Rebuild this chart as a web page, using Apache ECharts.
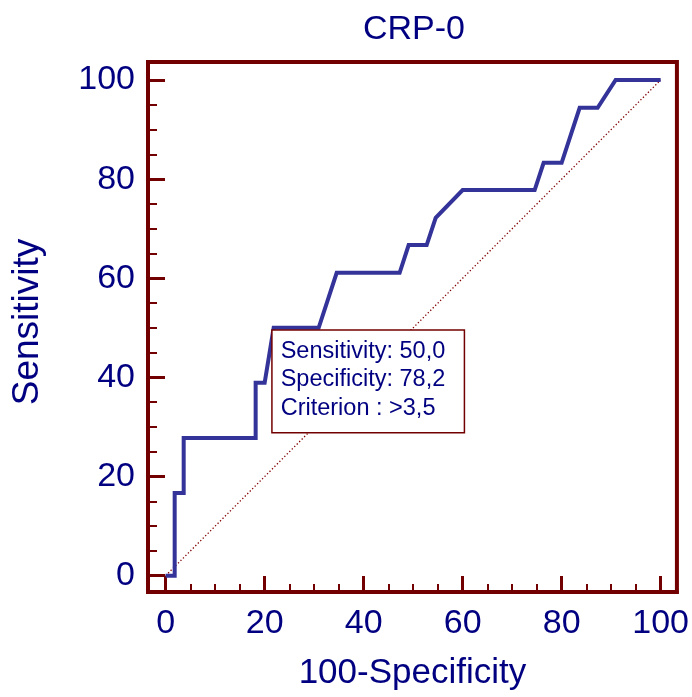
<!DOCTYPE html>
<html>
<head>
<meta charset="utf-8">
<script src="https://cdn.jsdelivr.net/npm/echarts@6/dist/echarts.min.js"></script>
<style>html,body{margin:0;padding:0;background:#fff}#c{width:692px;height:697px}</style>
</head>
<body>
<div id="c"></div>
<script>
// ROC curve (100-Specificity, Sensitivity)
const rocX = [0, 1.82, 1.82, 3.64, 3.64, 18.18, 18.18, 20.0, 21.82, 30.91, 34.55, 47.27, 49.09, 52.73, 54.55, 60.0, 74.55, 76.36, 80.0, 83.64, 87.27, 90.91, 100];
const rocY = [0, 0, 16.7, 16.7, 27.8, 27.8, 38.9, 38.9, 50.0, 50.0, 61.1, 61.1, 66.7, 66.7, 72.2, 77.8, 77.8, 83.3, 83.3, 94.4, 94.4, 100, 100];
const diagX = [0, 100];
const diagY = [0, 100];
const criterionPoint = [21.82, 50.0];
const boxLines = ['Sensitivity: 50,0', 'Specificity: 78,2', 'Criterion : >3,5'];
const majorTicks = [0, 20, 40, 60, 80, 100];
const minorTicks = [5, 10, 15, 25, 30, 35, 45, 50, 55, 65, 70, 75, 85, 90, 95];
const titleText = 'CRP-0';
const xName = '100-Specificity';
const yName = 'Sensitivity';

const FRAME = '#730000';
const NAVY = '#000080';
const FONT = "'Liberation Sans', Arial, sans-serif";

const chart = echarts.init(document.getElementById('c'));
const XMIN = -3.57, XMAX = 103.29, YMIN = -3.29, YMAX = 103.63;

function axisPair(kind) {
  const isX = kind === 'x';
  const base = {
    type: 'value', min: isX ? XMIN : YMIN, max: isX ? XMAX : YMAX,
    splitLine: { show: false }, gridIndex: 0
  };
  const major = Object.assign({}, base, {
    position: isX ? 'bottom' : 'left',
    axisLine: { show: true, onZero: false, lineStyle: { color: FRAME, width: 4 } },
    axisTick: { show: true, inside: true, length: isX ? 16 : 17, customValues: majorTicks,
      lineStyle: { color: FRAME, width: 3 } },
    axisLabel: { show: true, customValues: majorTicks, margin: isX ? 15 : 13,
      color: NAVY, fontSize: 34, fontFamily: FONT },
    name: isX ? xName : '',
    nameLocation: 'middle',
    nameGap: 64,
    nameTextStyle: { color: NAVY, fontSize: 35, fontFamily: FONT }
  });
  const minor = Object.assign({}, base, {
    position: isX ? 'bottom' : 'left',
    axisLine: { show: false, onZero: false },
    axisTick: { show: true, inside: true, length: isX ? 8 : 9, customValues: minorTicks,
      lineStyle: { color: FRAME, width: 2 } },
    axisLabel: { show: false }
  });
  return [major, minor];
}

const option = {
  animation: false,
  backgroundColor: '#fff',
  graphic: [{
    type: 'text', x: 414, y: 13,
    style: { text: titleText, fill: NAVY, fontSize: 34, fontFamily: FONT,
      textAlign: 'center', textVerticalAlign: 'top' }
  }, {
    type: 'text', x: 28, y: 322, rotation: Math.PI / 2,
    style: { text: yName, fill: NAVY, fontSize: 37, fontFamily: FONT,
      textAlign: 'center', textVerticalAlign: 'middle' }
  }],
  grid: { left: 148, top: 62, width: 530, height: 530, show: true,
    borderColor: FRAME, borderWidth: 4, backgroundColor: 'transparent' },
  xAxis: axisPair('x'),
  yAxis: axisPair('y'),
  series: [
    {
      type: 'line', xAxisIndex: 0, yAxisIndex: 0,
      data: diagX.map((x, i) => [x, diagY[i]]),
      showSymbol: false, silent: true,
      lineStyle: { color: '#800000', width: 1.3, type: [1.3, 2.2] }, z: 2
    },
    {
      type: 'line', xAxisIndex: 0, yAxisIndex: 0,
      data: rocX.map((x, i) => [x, rocY[i]]),
      showSymbol: false, silent: true,
      lineStyle: { color: '#333399', width: 4, join: 'miter' }, z: 3
    },
    {
      type: 'scatter', xAxisIndex: 0, yAxisIndex: 0,
      data: [criterionPoint], symbolSize: 0, silent: true, z: 5,
      itemStyle: { opacity: 1 },
      label: {
        show: true, position: [0, 0], offset: [-1, 3],
        align: 'left', verticalAlign: 'top', opacity: 1,
        formatter: () => boxLines.join('\n'),
        color: NAVY, fontSize: 23.5, fontFamily: FONT, lineHeight: 28.7,
        backgroundColor: '#fff', borderColor: FRAME, borderWidth: 1.5,
        padding: [6, 8, 9, 8], width: 175
      }
    }
  ]
};
chart.setOption(option);
</script>
</body>
</html>
